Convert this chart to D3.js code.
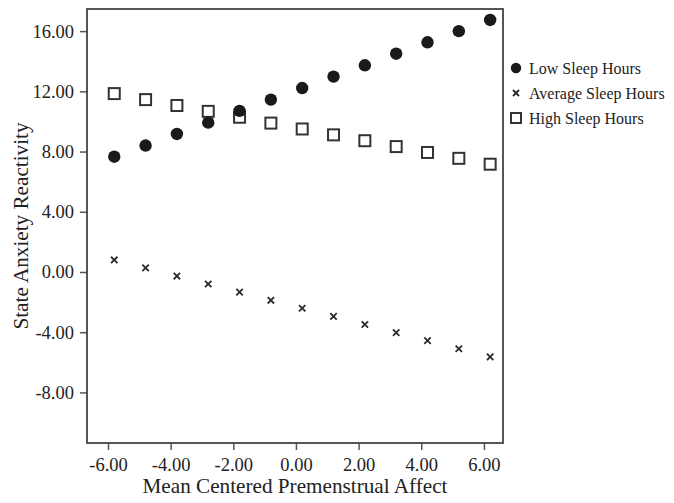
<!DOCTYPE html>
<html><head><meta charset="utf-8">
<script src="https://cdn.jsdelivr.net/npm/d3@7"></script>
<style>body{margin:0;background:#fff}svg{display:block}</style>
</head><body>
<svg id="c" width="674" height="503"></svg>
<script>
const xValues = [-5.8,-4.8,-3.8,-2.8,-1.8,-0.8,0.2,1.2,2.2,3.2,4.2,5.2,6.2];
const lowSleep = [7.66,8.40,9.17,9.92,10.70,11.45,12.22,12.98,13.73,14.50,15.26,16.00,16.74];
const averageSleep = [0.80,0.27,-0.27,-0.80,-1.34,-1.88,-2.41,-2.95,-3.49,-4.03,-4.56,-5.10,-5.64];
const highSleep = [11.85,11.45,11.06,10.67,10.28,9.89,9.50,9.11,8.72,8.33,7.94,7.55,7.16];
const xTicks = [-6,-4,-2,0,2,4,6];
const yTicks = [-8,-4,0,4,8,12,16];
const seriesNames = ["Low Sleep Hours","Average Sleep Hours","High Sleep Hours"];

const svg = d3.select("#c");
const L=87,R=503,T=9,B=443;
const x = d3.scaleLinear().domain([-6.67,6.61]).range([L,R]);
const y = d3.scaleLinear().domain([-11.36,17.47]).range([B,T]);
const font = "'Liberation Serif','Times New Roman',serif";
const fmt = d => d.toFixed(2);

// axes
const xa = svg.append("g").attr("transform",`translate(0,${B})`)
  .call(d3.axisBottom(x).tickValues(xTicks).tickFormat(fmt).tickSize(7).tickPadding(4));
const ya = svg.append("g").attr("transform",`translate(${L},0)`)
  .call(d3.axisLeft(y).tickValues(yTicks).tickFormat(fmt).tickSize(7).tickPadding(6));
[xa,ya].forEach(a=>{
  a.select(".domain").remove();
  a.selectAll("line").attr("stroke","#555").attr("stroke-width",1.5);
  a.selectAll("text").attr("fill","#222").style("font-family",font).style("font-size","18.5px");
});
xa.selectAll("text").attr("dy","0.92em");

// frame
svg.append("rect").attr("x",L).attr("y",T).attr("width",R-L).attr("height",B-T)
  .attr("fill","none").attr("stroke","#444").attr("stroke-width",1.8);

// titles
svg.append("text").attr("x",(L+R)/2).attr("y",493).attr("text-anchor","middle")
  .style("font-family",font).style("font-size","21.2px").attr("fill","#222")
  .text("Mean Centered Premenstrual Affect");
svg.append("text").attr("transform",`translate(28,${(T+B)/2}) rotate(-90)`).attr("text-anchor","middle")
  .style("font-family",font).style("font-size","21.2px").attr("fill","#222")
  .text("State Anxiety Reactivity");

// markers
function circle(g,cx,cy,r){g.append("circle").attr("cx",cx).attr("cy",cy).attr("r",r).attr("fill","#1a1a1a");}
function cross(g,cx,cy,s){g.append("path").attr("d",`M${cx-s},${cy-s}L${cx+s},${cy+s}M${cx-s},${cy+s}L${cx+s},${cy-s}`)
  .attr("stroke","#2a2a2a").attr("stroke-width",1.8).attr("fill","none");}
function square(g,cx,cy,s){g.append("rect").attr("x",cx-s).attr("y",cy-s).attr("width",2*s).attr("height",2*s)
  .attr("fill","#fff").attr("stroke","#333").attr("stroke-width",2);}

const gH = svg.append("g"), gL = svg.append("g"), gA = svg.append("g");
xValues.forEach((xv,i)=>{
  square(gH,x(xv),y(highSleep[i]),5.5);
  circle(gL,x(xv),y(lowSleep[i]),6.2);
  cross(gA,x(xv),y(averageSleep[i]),3.2);
});

// legend
const lg = svg.append("g");
const lx=516, ly0=68, ldy=25;
circle(lg,lx,ly0,5.2);
cross(lg,lx,ly0+ldy,3);
square(lg,lx,ly0+2*ldy,5);
seriesNames.forEach((n,i)=>{
  lg.append("text").attr("x",529).attr("y",ly0+i*ldy).attr("dy","0.35em")
    .style("font-family",font).style("font-size","16px").attr("fill","#222").text(n);
});
</script>
</body></html>
